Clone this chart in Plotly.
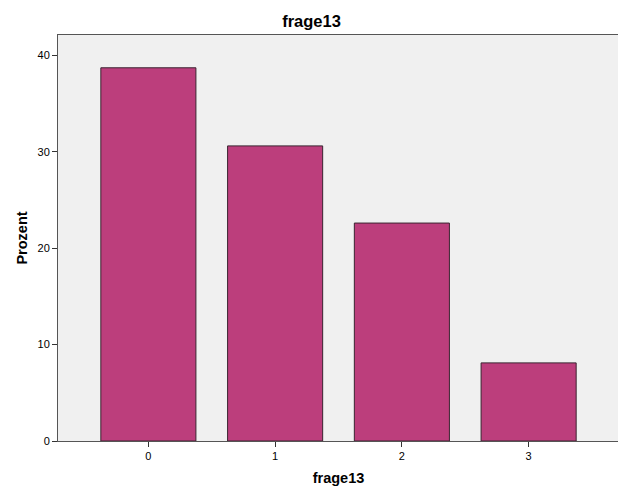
import plotly.graph_objects as go

categories = ["0", "1", "2", "3"]
values = [38.7, 30.6, 22.6, 8.1]
y_ticks = [0, 10, 20, 30, 40]

# page body has an 8px margin, so the figure is sized/offset to compensate
W, H = 618, 493

fig = go.Figure()
fig.add_trace(go.Bar(
    x=list(range(len(categories))), y=values, width=0.75,
    marker=dict(color="#BC3E7C", line=dict(color="#3A2430", width=1)),
))

fig.update_layout(
    width=W, height=H,
    margin=dict(l=50, r=7, t=27, b=60, autoexpand=False),
    paper_bgcolor="white", plot_bgcolor="#F0F0F0",
    font=dict(family="Liberation Sans, Arial", color="black", size=11),
    title=dict(text="<b>frage13</b>", x=(311.5 - 8) / W, xanchor="center", y=1 - 13 / H,
               yanchor="middle", xref="container", font=dict(size=16.5)),
    showlegend=False,
    bargap=0.25,
)
fig.update_xaxes(
    range=[-0.713, 3.713], tickmode="array", automargin=False,
    tickvals=list(range(len(categories))), ticktext=categories,
    ticks="outside", ticklen=5, tickcolor="#333", showgrid=False, zeroline=False,
    showline=True, linecolor="#555", linewidth=1, mirror=True,
    title=dict(text="<b>frage13</b>", font=dict(size=14.5), standoff=11),
)
fig.update_yaxes(
    range=[0, 42.1], tickmode="array", tickvals=y_ticks, automargin=False,
    ticks="outside", ticklen=5, tickcolor="#333", showgrid=False, zeroline=False,
    showline=True, linecolor="#555", linewidth=1, mirror=True,
    title=dict(text="<b>Prozent</b>", font=dict(size=14.5), standoff=6),
)

fig.write_html("out.html")
